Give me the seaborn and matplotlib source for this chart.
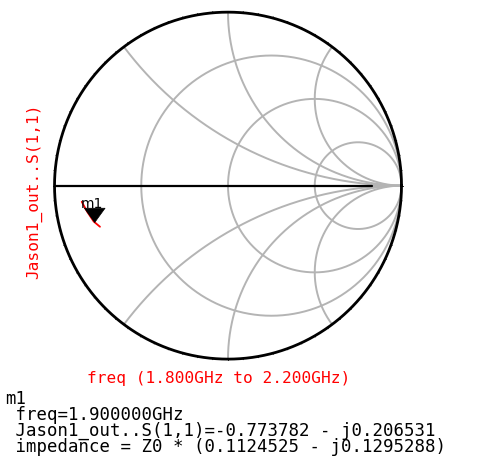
import numpy as np
import pandas as pd
import matplotlib
matplotlib.use("Agg")
import matplotlib.pyplot as plt
import seaborn as sns

# grid values of the Smith chart
r_circles = [1/3, 1.0, 3.0]
x_arcs = [0.5, 1.0, 2.0]
tick_step_deg = 5

freq_ghz = [1.80, 1.85, 1.90, 2.00, 2.20]
s11_re = [-0.843, -0.812, -0.774, -0.756, -0.738]
s11_im = [-0.093, -0.150, -0.207, -0.222, -0.237]

# marker m1
m1_freq = 1.9
m1_re = -0.773782
m1_im = -0.206531

info_lines = [
    "m1",
    " freq=1.900000GHz",
    " Jason1_out..S(1,1)=-0.773782 - j0.206531",
    " impedance = Z0 * (0.1124525 - j0.1295288)",
]

sns.set_theme(style="white")
plt.rcParams['font.family'] = ['DejaVu Sans Mono', 'DejaVu Sans']

fig = plt.figure(figsize=(5.0, 4.62), dpi=100)
# axes spans the unit circle exactly
ax = fig.add_axes([0.109, 0.2227, 0.694, 0.751])
ax.set_xlim(-1, 1)
ax.set_ylim(-1, 1)
ax.set_aspect("equal")
ax.axis("off")

grid_col = "#b4b4b4"
t = np.linspace(0, 2 * np.pi, 721)

# constant resistance circles
for r in r_circles:
    c = r / (1 + r)
    rad = 1 / (1 + r)
    ax.plot(c + rad * np.cos(t), rad * np.sin(t), color=grid_col, lw=1.4, clip_on=False, zorder=1)

# constant reactance arcs
rr = np.concatenate([[0], np.logspace(-3, 4, 600)])
for xv in x_arcs:
    for s in (1, -1):
        z = rr + 1j * s * xv
        g = (z - 1) / (z + 1)
        ax.plot(g.real, g.imag, color=grid_col, lw=1.4, clip_on=False, zorder=1)

# real axis
ax.plot([-1, 1], [0, 0], color=grid_col, lw=1.4, clip_on=False, zorder=1)
ax.plot([-1, 0.83], [0, 0], color="black", lw=1.6, clip_on=False, zorder=2)

# outer circle with small outward ticks
ax.plot(np.cos(t), np.sin(t), color="black", lw=2.0, clip_on=False, zorder=3)
for a in np.deg2rad(np.arange(0, 360, tick_step_deg)):
    ax.plot([np.cos(a), 1.007 * np.cos(a)], [np.sin(a), 1.007 * np.sin(a)],
            color="black", lw=0.7, clip_on=False, zorder=3)

# trace
df = pd.DataFrame({"freq": freq_ghz, "re": s11_re, "im": s11_im})
sns.lineplot(data=df, x="re", y="im", sort=False, color="red", lw=1.3, ax=ax, zorder=4)

# marker
tri = [(-1.45, 1.0), (1.45, 1.0), (0.0, -1.0)]
sns.scatterplot(x=[m1_re + 0.002], y=[m1_im + 0.037], marker=tri, s=230, color="black",
                edgecolor="black", linewidth=0.5, ax=ax, zorder=5)
ax.text(m1_re - 0.01, m1_im + 0.078, "m1", fontsize=10, family=['DejaVu Sans'],
        color="black", ha="center", va="baseline", zorder=6)
ax.set_xlabel("")
ax.set_ylabel("")

# axis labels
fig.text(34 / 500, 1 - 191 / 462, "Jason1_out..S(1,1)", color="red", fontsize=11.6,
         rotation=90, ha="center", va="center")
fig.text(219 / 500, 1 - 378 / 462, "freq (1.800GHz to 2.200GHz)", color="red",
         fontsize=11.6, ha="center", va="center")

# marker readout (anchored on the last line's baseline)
fig.text(5 / 500, 1 - 452 / 462, "\n".join(info_lines), color="black", fontsize=12.5,
         linespacing=0.85, ha="left", va="baseline")

fig.savefig("out.png", dpi=100, facecolor="white")
